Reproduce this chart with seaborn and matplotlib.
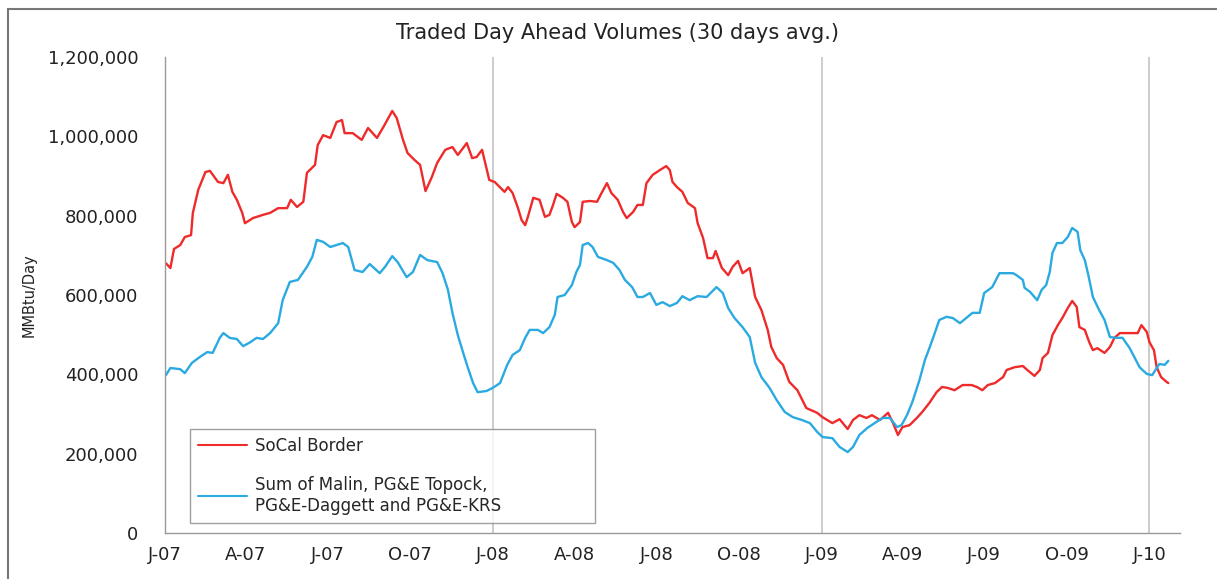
import matplotlib
matplotlib.use("Agg")
import matplotlib.pyplot as plt
import matplotlib.ticker as mticker
from matplotlib.patches import Rectangle
import pandas as pd
import seaborn as sns

# ---------- Data ----------
# x positions are days since 2007-01-01, values in thousand MMBtu/Day
socal_day = [1, 6, 10, 17, 22, 29, 31, 37, 45, 50, 59, 65, 70, 75, 80, 86, 89, 98, 109, 117,
             126, 136, 140, 147, 154, 158, 167, 170, 176, 184, 191, 197, 200, 209, 219, 226, 236, 243, 253, 258,
             265, 270, 278, 284, 290, 297, 303, 312, 320, 326, 336, 342, 347, 353, 361, 367, 378, 382, 387, 393,
             397, 401, 404, 410, 417, 423, 428, 432, 436, 443, 448, 453, 456, 462, 465, 473, 481, 486, 492, 497,
             504, 510, 514, 521, 526, 532, 536, 543, 551, 558, 562, 565, 570, 576, 582, 590, 593, 599, 604, 610,
             613, 620, 627, 632, 638, 643, 651, 657, 664, 671, 675, 681, 688, 695, 704, 714, 726, 732, 743, 751,
             760, 766, 773, 781, 787, 796, 805, 810, 816, 821, 829, 837, 843, 851, 859, 865, 871, 879, 888, 898,
             904, 910, 916, 924, 933, 937, 946, 955, 960, 968, 974, 977, 983, 988, 994, 999, 1005, 1010, 1015, 1018,
             1024, 1029, 1033, 1038, 1046, 1052, 1057, 1063, 1074, 1083, 1087, 1093, 1096, 1101, 1104, 1109, 1115, 1117]
socal_vol = [680, 668, 716, 726, 746, 751, 807, 865, 910, 913, 885, 882, 903, 860, 840, 807, 781, 794, 802, 807,
             819, 819, 840, 822, 835, 908, 928, 978, 1003, 996, 1036, 1041, 1008, 1008, 991, 1021, 996, 1023, 1064, 1046,
             991, 958, 940, 928, 862, 897, 933, 966, 973, 953, 983, 945, 948, 966, 890, 885, 860, 872, 857, 819,
             789, 776, 797, 845, 840, 797, 802, 827, 855, 845, 835, 784, 771, 784, 835, 837, 835, 857, 882, 857,
             840, 809, 794, 809, 827, 827, 882, 903, 915, 925, 915, 885, 872, 860, 832, 819, 781, 744, 693, 693,
             711, 668, 650, 671, 686, 655, 668, 595, 562, 512, 469, 441, 424, 381, 360, 315, 303, 292, 277, 287,
             262, 285, 297, 290, 297, 285, 303, 280, 247, 267, 272, 290, 305, 328, 355, 368, 366, 360, 373, 373,
             368, 360, 373, 378, 393, 411, 418, 421, 411, 396, 411, 441, 454, 499, 524, 542, 567, 585, 570, 519,
             512, 481, 461, 466, 454, 469, 492, 504, 504, 504, 524, 507, 481, 461, 418, 393, 381, 378]

sum_day = [1, 6, 17, 22, 30, 39, 47, 53, 61, 65, 72, 80, 87, 95, 102, 109, 117, 126, 131, 139,
           148, 158, 164, 169, 176, 184, 191, 198, 204, 211, 220, 228, 239, 245, 253, 259, 269, 276, 284, 292,
           303, 309, 315, 320, 326, 332, 337, 343, 348, 358, 365, 373, 381, 387, 395, 401, 406, 415, 421, 428,
           434, 437, 445, 453, 458, 462, 465, 471, 476, 482, 492, 499, 506, 512, 520, 526, 532, 540, 547, 554,
           562, 570, 576, 584, 593, 603, 614, 621, 627, 634, 643, 651, 657, 664, 673, 681, 690, 699, 709, 718,
           726, 732, 743, 751, 760, 766, 773, 782, 792, 799, 807, 815, 820, 826, 832, 840, 846, 851, 857, 862,
           870, 877, 885, 892, 899, 907, 912, 921, 929, 937, 944, 948, 955, 957, 963, 971, 976, 981, 985, 988,
           993, 999, 1005, 1010, 1016, 1019, 1024, 1028, 1033, 1040, 1046, 1052, 1059, 1066, 1074, 1079, 1085, 1093,
           1099, 1107, 1113, 1117]
sum_vol = [398, 416, 413, 403, 429, 444, 456, 454, 492, 504, 492, 489, 471, 481, 492, 489, 504, 529, 587, 633,
           638, 671, 696, 739, 734, 721, 726, 731, 721, 663, 658, 678, 655, 671, 698, 683, 645, 658, 701, 688,
           683, 655, 613, 555, 499, 454, 418, 378, 355, 358, 366, 378, 424, 449, 461, 492, 512, 512, 504, 519,
           550, 595, 600, 625, 658, 676, 726, 731, 721, 696, 688, 681, 663, 638, 620, 595, 595, 605, 575, 582,
           572, 580, 597, 587, 597, 595, 620, 605, 567, 542, 519, 494, 429, 393, 366, 335, 305, 292, 285, 277,
           255, 242, 239, 217, 204, 217, 247, 265, 280, 290, 290, 267, 272, 297, 330, 386, 436, 466, 504, 537,
           545, 542, 529, 542, 555, 555, 605, 620, 655, 655, 655, 650, 638, 618, 608, 587, 613, 625, 658, 706,
           731, 731, 746, 769, 759, 713, 688, 650, 595, 562, 537, 494, 492, 492, 466, 444, 418, 401,
           398, 426, 424, 434]

tick_dates = ["2007-01-01", "2007-04-01", "2007-07-01", "2007-10-01", "2008-01-01", "2008-04-01",
              "2008-07-01", "2008-10-01", "2009-01-01", "2009-04-01", "2009-07-01", "2009-10-01", "2010-01-01"]
tick_labels = ["J-07", "A-07", "J-07", "O-07", "J-08", "A-08", "J-08", "O-08",
               "J-09", "A-09", "J-09", "O-09", "J-10"]
year_lines = ["2008-01-01", "2009-01-01", "2010-01-01"]

series_names = ["SoCal Border", "Sum of Malin, PG&E Topock,\nPG&E-Daggett and PG&E-KRS"]
series_colors = ["#EE2A2A", "#2AAAE0"]

# ---------- Build long table ----------
start = pd.Timestamp("2007-01-01")
df = pd.concat([
    pd.DataFrame({"date": start + pd.to_timedelta(socal_day, unit="D"),
                  "volume": [v * 1000 for v in socal_vol], "series": series_names[0]}),
    pd.DataFrame({"date": start + pd.to_timedelta(sum_day, unit="D"),
                  "volume": [v * 1000 for v in sum_vol], "series": series_names[1]}),
])

sns.set_style("white")
plt.rcParams["font.family"] = ["DejaVu Sans"]

fig = plt.figure(figsize=(12.17, 5.79), dpi=100)
ax = fig.add_axes([165 / 1217, 46 / 579, 1015 / 1217, 476 / 579])

for d in year_lines:
    ax.axvline(pd.Timestamp(d), color="#C8C8C8", lw=1.3, zorder=0)

sns.lineplot(data=df, x="date", y="volume", hue="series", palette=series_colors,
             linewidth=1.7, ax=ax, estimator=None, sort=False)

ax.set_xlim(start, pd.Timestamp("2010-02-04"))
ax.set_ylim(0, 1200000)
ax.yaxis.set_major_locator(mticker.MultipleLocator(200000))
ax.yaxis.set_major_formatter(mticker.FuncFormatter(lambda v, p: f"{v:,.0f}"))
ax.set_xticks(pd.to_datetime(tick_dates))
ax.set_xticklabels(tick_labels)

ax.tick_params(axis="both", which="major", direction="out", length=5, width=1,
               color="#999999", labelsize=13, labelcolor="#222222")
ax.tick_params(axis="x", pad=4)
ax.tick_params(axis="y", pad=14)
for side in ["top", "right"]:
    ax.spines[side].set_visible(False)
for side in ["left", "bottom"]:
    ax.spines[side].set_color("#999999")
    ax.spines[side].set_linewidth(1)

ax.set_xlabel("")
ax.set_ylabel("MMBtu/Day", fontsize=10.5, color="#222222")
ax.yaxis.set_label_coords(-0.126, 0.5)
ax.set_title("")
fig.text(618 / 1217, 1 - 33 / 579, "Traded Day Ahead Volumes (30 days avg.)",
         ha="center", va="center", fontsize=15, color="#222222")

leg = ax.legend(loc="lower left", bbox_to_anchor=(0.0246, 0.021, 0.399, 0.195), mode="expand",
                borderaxespad=0, frameon=True, fancybox=False, edgecolor="#888888", fontsize=12,
                handlelength=2.9, handletextpad=0.5, labelspacing=1.25, borderpad=0.5,
                title=None)
leg.get_frame().set_linewidth(1)
for line in leg.get_lines():
    line.set_linewidth(1.5)

# outer chart-area border (left and top edges visible in the reference)
fig.patches.append(Rectangle((8 / 1217, -0.2), 1.2, 1.2 - 9 / 579, transform=fig.transFigure,
                             fill=False, edgecolor="#777777", linewidth=1.5))

fig.savefig("out.png", dpi=100)
